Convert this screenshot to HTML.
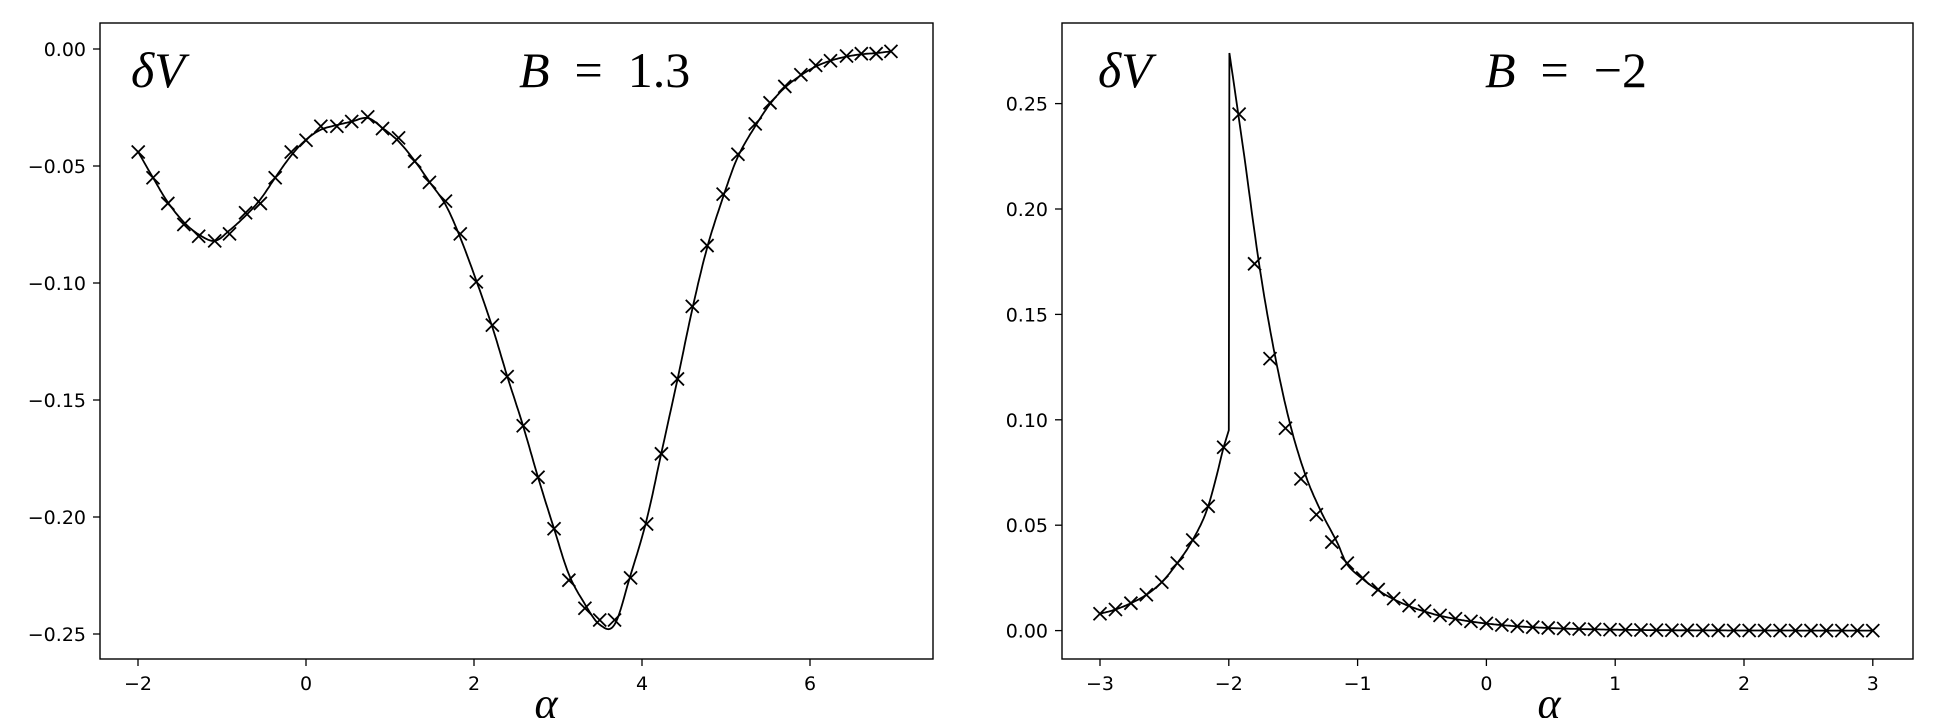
<!DOCTYPE html>
<html><head><meta charset="utf-8"><style>
html,body{margin:0;padding:0;background:#fff;}
svg{display:block;}
.t{font-family:"DejaVu Sans","Liberation Sans",sans-serif;font-size:19px;fill:#000;}
.m{font-family:"Liberation Serif","DejaVu Serif",serif;font-style:italic;font-size:50px;fill:#000;}
.r{font-family:"Liberation Serif","DejaVu Serif",serif;font-style:normal;font-size:50px;fill:#000;}
</style></head><body>
<svg id="s" width="1935" height="718" viewBox="0 0 1935 718" xmlns="http://www.w3.org/2000/svg">
<rect x="100" y="23" width="833" height="636" fill="none" stroke="#000" stroke-width="1.4"/>
<rect x="1062" y="23" width="851" height="636" fill="none" stroke="#000" stroke-width="1.4"/>
<text class="m" x="131" y="87">δV</text>
<text x="519" y="87" xml:space="preserve"><tspan class="m">B</tspan><tspan class="r">  =  1.3</tspan></text>
<text class="m" x="1098" y="87">δV</text>
<text x="1485" y="87" xml:space="preserve"><tspan class="m">B</tspan><tspan class="r">  =  −2</tspan></text>
<text class="m" x="546" y="718" style="font-size:44px" text-anchor="middle">α</text>
<text class="m" x="1549" y="718" style="font-size:44px" text-anchor="middle">α</text>
<g id="g"></g>
</svg>
<script>
var NS="http://www.w3.org/2000/svg",g=document.getElementById('g');
function el(n,a,t){var e=document.createElementNS(NS,n);for(var k in a)e.setAttribute(k,a[k]);if(t!=null)e.textContent=t;g.appendChild(e);return e;}
var LX=function(a){return 306+84*a},LY=function(v){return 49-2340*v};
var RX=function(a){return 1100+128.8*(a+3)},RY=function(v){return 630.6-2108*v};
[-2,0,2,4,6].forEach(function(a){var x=LX(a);el('line',{x1:x,x2:x,y1:659,y2:666,stroke:'#000','stroke-width':1.3});el('text',{x:x,y:690,'class':'t','text-anchor':'middle'},(a<0?'−':'')+Math.abs(a));});
[0,-0.05,-0.1,-0.15,-0.2,-0.25].forEach(function(v){var y=LY(v);el('line',{x1:93,x2:100,y1:y,y2:y,stroke:'#000','stroke-width':1.3});el('text',{x:86,y:y+7,'class':'t','text-anchor':'end'},(v<0?'−':'')+Math.abs(v).toFixed(2));});
[-3,-2,-1,0,1,2,3].forEach(function(a){var x=RX(a);el('line',{x1:x,x2:x,y1:659,y2:666,stroke:'#000','stroke-width':1.3});el('text',{x:x,y:690,'class':'t','text-anchor':'middle'},(a<0?'−':'')+Math.abs(a));});
[0,0.05,0.1,0.15,0.2,0.25].forEach(function(v){var y=RY(v);el('line',{x1:1055,x2:1062,y1:y,y2:y,stroke:'#000','stroke-width':1.3});el('text',{x:1048,y:y+7,'class':'t','text-anchor':'end'},v.toFixed(2));});
function cr(pts,fx,fy){var d='M'+fx(pts[0][0]).toFixed(1)+','+fy(pts[0][1]).toFixed(1);
for(var i=0;i<pts.length-1;i++){var p0=pts[Math.max(i-1,0)],p1=pts[i],p2=pts[i+1],p3=pts[Math.min(i+2,pts.length-1)];
for(var t=0.1;t<=1.0001;t+=0.1){var t2=t*t,t3=t2*t;var f=function(k){return 0.5*((2*p1[k])+(-p0[k]+p2[k])*t+(2*p0[k]-5*p1[k]+4*p2[k]-p3[k])*t2+(-p0[k]+3*p1[k]-3*p2[k]+p3[k])*t3)};
d+=' L'+fx(f(0)).toFixed(1)+','+fy(f(1)).toFixed(1);}}return d;}
function X(x,y){var s=6.5;el('path',{d:'M'+(x-s)+','+(y-s)+'L'+(x+s)+','+(y+s)+'M'+(x-s)+','+(y+s)+'L'+(x+s)+','+(y-s),stroke:'#000','stroke-width':1.8,fill:'none'});}
var lx=[112,124,136,149,161,174,186,199,211,223,236,248,260,273,285,298,310,323,336,348,361,373,386,399,411,424,436,449,461,474,486,498,511,524,536,549,561,573,586,598,612,624,636,649,661,673,686,698,710,722];
var lv=[-0.044,-0.055,-0.066,-0.075,-0.080,-0.082,-0.079,-0.070,-0.066,-0.055,-0.044,-0.039,-0.033,-0.033,-0.031,-0.029,-0.034,-0.038,-0.048,-0.057,-0.065,-0.079,-0.0995,-0.118,-0.140,-0.161,-0.183,-0.205,-0.227,-0.239,-0.244,-0.244,-0.226,-0.203,-0.173,-0.141,-0.110,-0.084,-0.062,-0.045,-0.032,-0.023,-0.016,-0.011,-0.007,-0.005,-0.003,-0.002,-0.002,-0.001];
var la=lx.map(function(d){return (d*1.234-306)/84;});
lv.forEach(function(v,i){X(LX(la[i]),LY(v));});
var lc=[];
for(var i=0;i<lv.length;i++){var v=lv[i];if(i>0&&i<lv.length-1)v=0.25*lv[i-1]+0.5*lv[i]+0.25*lv[i+1];lc.push([la[i],v]);}
// extrema fixes
lc[5][1]=-0.082;lc[15][1]=-0.0295;lc[30][1]=-0.246;lc[31][1]=-0.246;
el('path',{d:cr(lc,LX,LY),stroke:'#000','stroke-width':1.8,fill:'none'});
var rv=[0.008,0.010,0.013,0.017,0.023,0.032,0.043,0.059,0.087,0.245,0.174,0.129,0.096,0.072,0.055,0.042,0.032];
while(rv.length<51){rv.push(rv[rv.length-1]*0.78);}
rv.forEach(function(v,i){X(RX(-3+0.12*i),RY(v));});
var lp=[];for(var i=0;i<=8;i++)lp.push([-3+0.12*i,rv[i]]);
var d=cr(lp,RX,RY)+' L'+RX(-2.0).toFixed(1)+','+RY(0.095).toFixed(1)+' L'+RX(-1.995).toFixed(1)+','+RY(0.274).toFixed(1);
var rp=[[-1.995,0.274],[-1.88,0.225],[-1.76,0.172],[-1.64,0.130],[-1.52,0.097],[-1.4,0.073],[-1.28,0.056],[-1.16,0.042]];
for(var i=16;i<51;i++)rp.push([-3+0.12*i,rv[i]*0.98]);
d+=' '+cr(rp,RX,RY).replace(/^M/,'L');
el('path',{d:d,stroke:'#000','stroke-width':1.8,fill:'none'});
</script>
</body></html>
